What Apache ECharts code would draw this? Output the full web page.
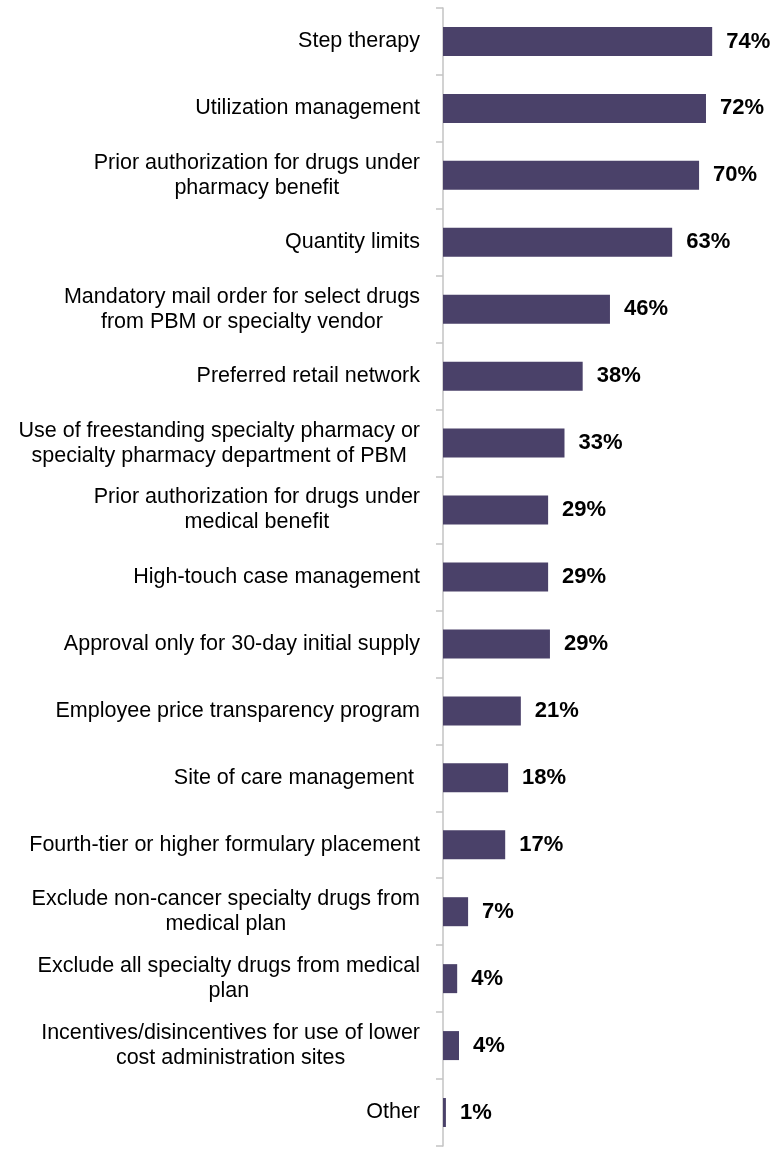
<!DOCTYPE html>
<html>
<head>
<meta charset="utf-8">
<script src="https://cdn.jsdelivr.net/npm/echarts@6/dist/echarts.min.js"></script>
<style>
  html, body { margin: 0; padding: 0; background: #fff; }
  #chart { width: 773px; height: 1151px; }
</style>
</head>
<body>
<div id="chart"></div>
<script>
// categories, top to bottom
var categories = [
    'Step therapy',
    'Utilization management',
    'Prior authorization for drugs under\npharmacy benefit',
    'Quantity limits',
    'Mandatory mail order for select drugs\nfrom PBM or specialty vendor',
    'Preferred retail network',
    'Use of freestanding specialty pharmacy or\nspecialty pharmacy department of PBM',
    'Prior authorization for drugs under\nmedical benefit',
    'High-touch case management',
    'Approval only for 30-day initial supply',
    'Employee price transparency program',
    'Site of care management ',
    'Fourth-tier or higher formulary placement',
    'Exclude non-cancer specialty drugs from\nmedical plan',
    'Exclude all specialty drugs from medical\nplan',
    'Incentives/disincentives for use of lower\ncost administration sites',
    'Other'
];

// share of employers (%), bar lengths
var values = [74, 72.3, 70.4, 63, 45.9, 38.4, 33.4, 28.9, 28.9, 29.4, 21.4, 17.9, 17.1, 6.9, 3.9, 4.4, 0.8];

var FONT = "'Liberation Sans', Arial, sans-serif";

var chart = echarts.init(document.getElementById('chart'));

chart.setOption({
    animation: false,
    grid: { left: 443, top: 8, bottom: 5, right: 39, outerBoundsMode: 'none', containLabel: false },
    xAxis: {
        type: 'value',
        min: 0,
        max: 80,
        show: false
    },
    yAxis: {
        type: 'category',
        inverse: true,
        data: categories,
        axisLine: { show: true, lineStyle: { color: '#c3c3c3', width: 1.5 } },
        axisTick: { show: true, length: 7, lineStyle: { color: '#c3c3c3', width: 1.5 } },
        axisLabel: {
            margin: 23,
            align: 'right',
            // centre the lines of two-line labels on each other
            formatter: function (v) {
                return v.split('\n').map(function (l) { return '{c|' + l + '}'; }).join('\n');
            },
            rich: {
                c: {
                    align: 'center',
                    fontFamily: FONT,
                    fontSize: 21.5,
                    lineHeight: 25,
                    color: '#000'
                }
            }
        }
    },
    series: [{
        type: 'bar',
        data: values,
        barWidth: 29,
        itemStyle: { color: '#4a4169' },
        label: {
            show: true,
            position: 'right',
            distance: 14,
            fontFamily: FONT,
            fontWeight: 'bold',
            fontSize: 22,
            color: '#000',
            formatter: function (p) { return Math.round(p.value) + '%'; }
        }
    }]
});
</script>
</body>
</html>
